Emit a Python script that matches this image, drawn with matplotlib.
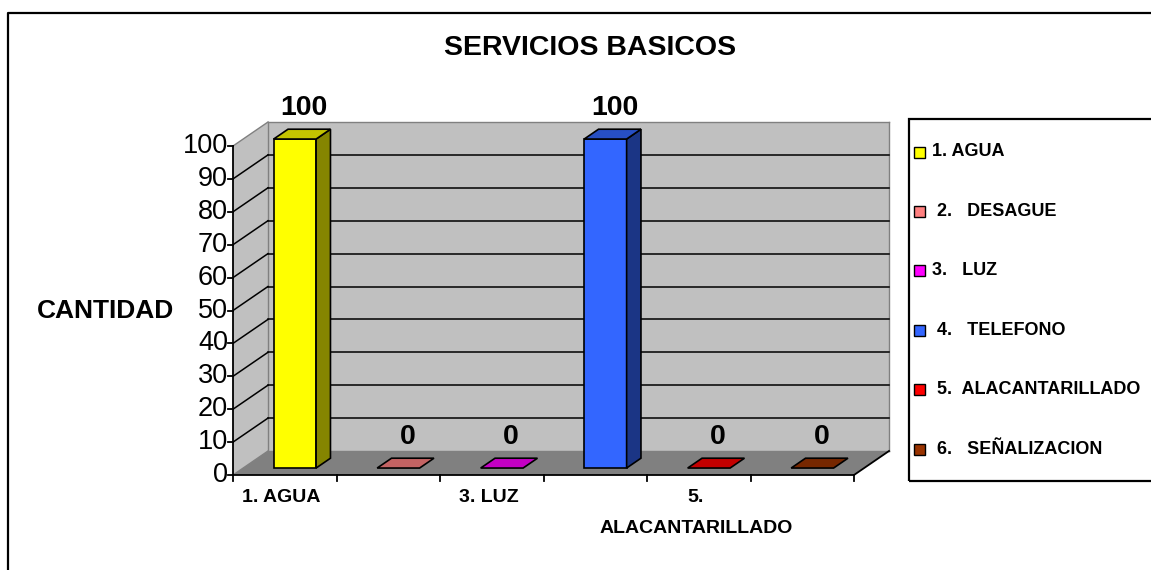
import numpy as np
import matplotlib
matplotlib.use("Agg")
import matplotlib.pyplot as plt
from matplotlib.patches import Polygon, Rectangle
from matplotlib.lines import Line2D
from matplotlib.transforms import IdentityTransform

plt.rcParams['font.family'] = ['Liberation Sans', 'DejaVu Sans']

# Datos del grafico
servicios = ["1. AGUA", " 2.   DESAGUE", "3.   LUZ", " 4.   TELEFONO",
             " 5.  ALACANTARILLADO", " 6.   SEÑALIZACION"]
cantidad = [100, 0, 0, 100, 0, 0]
etiquetas_x = ["1. AGUA", "", "3. LUZ", "", "5.\nALACANTARILLADO", ""]
colores = ["#FFFF00", "#FF8080", "#FF00FF", "#3366FF", "#FF0000", "#993300"]
y_ticks = list(range(0, 101, 10))

W, H = 1151, 570
fig = plt.figure(figsize=(W / 100, H / 100), dpi=100)
ax = fig.add_axes([233 / W, 1 - 475 / H, 621 / W, 329 / H])
ax.set_xlim(0, len(cantidad))
ax.set_ylim(0, 100)
ax.axis('off')

DEPTH = np.array([35.0, 24.0])   # profundidad del piso (px)
D_FRONT, D_BACK = 0.29, 0.70     # cara frontal / trasera de las barras
BW = 0.41                        # ancho de barra
ID = IdentityTransform()


def P(x, v, d=0.0):
    return ax.transData.transform((x, v)) + d * DEPTH


def poly(pts, fc, ec, lw=1.0, z=1):
    ax.add_patch(Polygon(np.array(pts), closed=True, fc=fc, ec=ec, lw=lw,
                         transform=ID, clip_on=False, zorder=z))


def line(p, q, color='black', lw=1.1, z=2):
    ax.add_line(Line2D([p[0], q[0]], [p[1], q[1]], color=color, lw=lw,
                       transform=ID, clip_on=False, zorder=z))


def shade(c, k):
    r, g, b = matplotlib.colors.to_rgb(c)
    return (r * k, g * k, b * k)


n = len(cantidad)
ymax = y_ticks[-1]

# paredes y piso
poly([P(0, 0), P(0, ymax), P(0, ymax, 1), P(0, 0, 1)], '#C0C0C0', 'none', z=0)
poly([P(0, 0, 1), P(0, ymax, 1), P(n, ymax, 1), P(n, 0, 1)], '#C0C0C0', 'none', z=0)
poly([P(0, 0), P(n, 0), P(n, 0, 1), P(0, 0, 1)], '#808080', 'none', z=0)

# bordes grises de las paredes
for p, q in [(P(0, ymax), P(0, ymax, 1)), (P(0, ymax, 1), P(n, ymax, 1)),
             (P(0, 0, 1), P(0, ymax, 1)), (P(n, 0, 1), P(n, ymax, 1)),
             (P(0, 0), P(0, 0, 1)), (P(0, 0, 1), P(n, 0, 1))]:
    line(p, q, color='#808080', lw=1.0)

# lineas de division
for v in y_ticks[1:-1]:
    line(P(0, v), P(0, v, 1))
    line(P(0, v, 1), P(n, v, 1))

# eje vertical y marcas
line(P(0, 0), P(0, ymax), lw=1.3, z=3)
for v in y_ticks:
    line(P(0, v) + [-5, 0], P(0, v), lw=1.3, z=3)
    ax.annotate(str(v), xy=(0, v), xytext=(-5, 0), textcoords='offset pixels',
                ha='right', va='center', fontsize=19.5, annotation_clip=False)

# borde del piso y marcas de categoria
line(P(0, 0), P(n, 0), lw=1.3, z=3)
line(P(n, 0), P(n, 0, 1), lw=1.3, z=3)
for i in range(n + 1):
    line(P(i, 0), P(i, 0) + [0, -6], lw=1.3, z=3)

for i, lab in enumerate(etiquetas_x):
    if lab:
        ax.annotate(lab, xy=(i + 0.5, 0), xytext=(-3, -14), textcoords='offset pixels',
                    ha='center', va='top', fontsize=14, weight='bold',
                    linespacing=2.1, annotation_clip=False)

# barras 3D
for i, (v, c) in enumerate(zip(cantidad, colores)):
    x0 = i + (1 - BW) / 2
    x1 = x0 + BW
    f0, f1, f2, f3 = P(x0, 0, D_FRONT), P(x1, 0, D_FRONT), P(x1, v, D_FRONT), P(x0, v, D_FRONT)
    b1, b2, b3 = P(x1, 0, D_BACK), P(x1, v, D_BACK), P(x0, v, D_BACK)
    if v > 0:
        poly([f0, f1, f2, f3], c, 'black', lw=1.2, z=4)
        poly([f1, b1, b2, f2], shade(c, 0.52), 'black', lw=1.2, z=4)
    poly([f3, f2, b2, b3], shade(c, 0.77), 'black', lw=1.2, z=4)
    top = np.array([(f2[0] + f3[0] + b2[0] + b3[0]) / 4, b2[1]])
    ax.annotate(str(v), xy=top, xycoords='figure pixels', xytext=(2, 14),
                textcoords='offset pixels', ha='center', va='baseline',
                fontsize=20.5, weight='bold', annotation_clip=False, zorder=5)

# titulos
fig.text(590 / W, 1 - 48 / H, "SERVICIOS BASICOS", ha='center', va='center',
         fontsize=20.5, weight='bold')
fig.text(106 / W, 1 - 311 / H, "CANTIDAD", ha='center', va='center',
         fontsize=19, weight='bold')

# marco exterior
fig.add_artist(Line2D([8 / W, 8 / W, 1.01], [-0.01, 1 - 13 / H, 1 - 13 / H],
                      color='black', lw=1.6, transform=fig.transFigure))

# leyenda
fig.add_artist(Rectangle((909 / W, 1 - 481 / H), 260 / W, 362 / H, fill=False,
                         ec='black', lw=1.6, transform=fig.transFigure))
for i, (lab, c) in enumerate(zip(servicios, colores)):
    yc = 152 + i * 59.4
    fig.add_artist(Rectangle((914 / W, 1 - (yc + 5.5) / H), 11 / W, 11 / H, fc=c,
                             ec='black', lw=1.0, transform=fig.transFigure))
    fig.text(932 / W, 1 - yc / H, lab, ha='left', va='center', fontsize=13,
             weight='bold')

fig.savefig('out.png', dpi=100)
